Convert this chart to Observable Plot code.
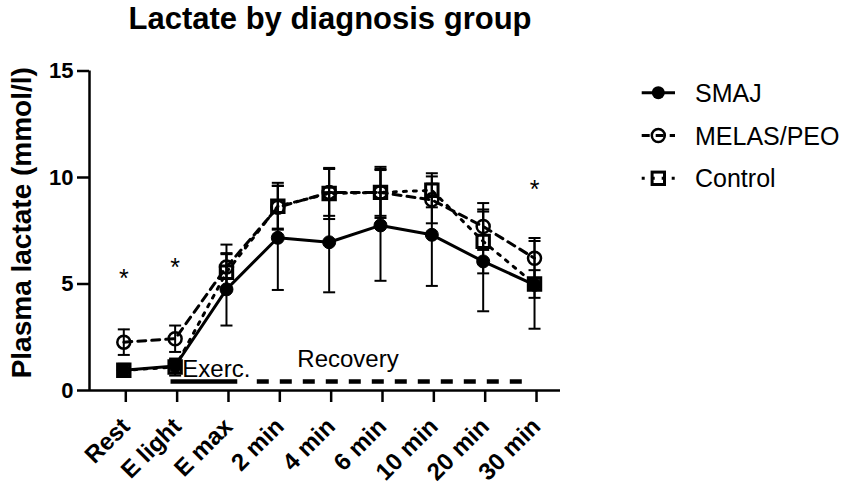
<!DOCTYPE html>
<html><head><meta charset="utf-8">
<script src="https://cdn.jsdelivr.net/npm/d3@7"></script>
<script src="https://cdn.jsdelivr.net/npm/@observablehq/plot@0.6"></script>
<style>
body{margin:0;background:#fff;font-family:"Liberation Sans",Arial,Helvetica,sans-serif;}
#wrap{position:relative;width:851px;height:485px;overflow:hidden;background:#fff;}
#title{position:absolute;left:0;top:3px;width:660px;text-align:center;font-weight:bold;font-size:31px;line-height:31px;color:#000;}
#chart{position:absolute;left:0;top:44px;}
#legend{position:absolute;left:630px;top:70px;}
</style></head><body>
<div id="wrap"><div id="title">Lactate by diagnosis group</div><div id="chart"></div><svg id="legend" width="221" height="130"></svg></div>
<script>
// ---- data ----
const categories = ["Rest","E light","E max","2 min","4 min","6 min","10 min","20 min","30 min"];
const groups = ["SMAJ","MELAS/PEO","Control"];
const smajMean    = [0.95, 1.15, 4.75, 7.17, 6.96, 7.75, 7.31, 6.06, 4.96];
const smajSD      = [0.30, 0.30, 1.70, 2.45, 2.35, 2.60, 2.40, 2.34, 2.06];
const melasMean   = [2.27, 2.43, 5.80, 8.60, 9.30, 9.30, 8.95, 7.70, 6.21];
const melasSD     = [0.60, 0.62, 1.05, 1.00, 1.10, 1.20, 1.10, 1.10, 0.95];
const controlMean = [0.95, 1.10, 5.55, 8.65, 9.25, 9.30, 9.40, 7.00, 5.00];
const controlSD   = [0.25, 0.40, 0.85, 1.10, 1.20, 1.10, 0.80, 1.50, 0.65];
const starCategories = ["Rest","E light","30 min"];
const starValues = [5.53, 6.04, 9.70];
const phaseLabels = ["Exerc.","Recovery"];
const phaseStart = [0.92, 2.60];   // category-index units
const phaseEnd   = [2.22, 7.95];
const phaseLevel = [0.42, 0.42];
const phaseLabelX = [1.14, 3.38];
const phaseLabelY = [0.62, 1.10];
const yTicks = [0, 5, 10, 15];
const yLabel = "Plasma lactate (mmol/l)";

// ---- tables ----
const means = [smajMean, melasMean, controlMean];
const sds = [smajSD, melasSD, controlSD];
const rows = [];
groups.forEach((g, k) => categories.forEach((c, i) => rows.push({g, i, mean: means[k][i], sd: sds[k][i]})));
const byGroup = g => rows.filter(d => d.g === g);
const stars = starCategories.map((c, k) => ({i: categories.indexOf(c), v: starValues[k]}));
const phases = phaseLabels.map((l, k) => ({label: l, x1: phaseStart[k], x2: phaseEnd[k], y: phaseLevel[k], lx: phaseLabelX[k], ly: phaseLabelY[k]}));

const capSymbol = {draw(ctx, size) { const w = Math.sqrt(size / Math.PI); ctx.moveTo(-w, 0); ctx.lineTo(w, 0); }};
const xDomain = [-0.668, 8.506];

const chart = Plot.plot({
  width: 851, height: 441,
  marginLeft: 89, marginRight: 291, marginTop: 26.5, marginBottom: 95,
  style: {fontFamily: "'Liberation Sans', Arial, sans-serif", color: "#000", background: "#fff", overflow: "visible"},
  x: {domain: xDomain},
  y: {domain: [0, 15]},
  marks: [
    // axes lines
    Plot.ruleY([0], {stroke: "#000", strokeWidth: 2.5}),
    Plot.ruleX([xDomain[0]], {y1: yTicks[0], y2: yTicks[yTicks.length - 1], stroke: "#000", strokeWidth: 2.5}),
    Plot.axisY({ticks: yTicks, tickSize: 12, tickPadding: 4, fontSize: 22, fontWeight: "bold", label: null, strokeWidth: 2.5}),
    Plot.axisX({ticks: d3.range(categories.length), tickFormat: i => categories[i], tickRotate: -45, tickSize: 12, tickPadding: 20, dx: 2, fontSize: 24, fontWeight: "bold", label: null, strokeWidth: 2.5}),
    Plot.text([yLabel], {frameAnchor: "left", textAnchor: "middle", rotate: -90, dx: -67, dy: -8, fontSize: 28, fontWeight: "bold"}),
    // phase annotations
    Plot.ruleY(phases.slice(0, 1), {x1: "x1", x2: "x2", y: "y", stroke: "#000", strokeWidth: 4.5}),
    Plot.ruleY(phases.slice(1), {x1: "x1", x2: "x2", y: "y", stroke: "#000", strokeWidth: 4.5, strokeDasharray: "12,11"}),
    Plot.text(phases, {x: "lx", y: "ly", text: "label", textAnchor: "start", lineAnchor: "bottom", fontSize: 24}),
    // error bars
    Plot.ruleX(rows, {x: "i", y1: d => d.mean - d.sd, y2: d => d.mean + d.sd, stroke: "#000", strokeWidth: 2}),
    Plot.dot(rows, {x: "i", y: d => d.mean + d.sd, symbol: capSymbol, r: 6, stroke: "#000", strokeWidth: 2}),
    Plot.dot(rows, {x: "i", y: d => d.mean - d.sd, symbol: capSymbol, r: 6, stroke: "#000", strokeWidth: 2}),
    // lines
    Plot.line(byGroup("Control"), {x: "i", y: "mean", stroke: "#000", strokeWidth: 3, strokeDasharray: "3,7"}),
    Plot.line(byGroup("MELAS/PEO"), {x: "i", y: "mean", stroke: "#000", strokeWidth: 3, strokeDasharray: "8,6"}),
    Plot.line(byGroup("SMAJ"), {x: "i", y: "mean", stroke: "#000", strokeWidth: 3}),
    // markers
    Plot.dot(byGroup("Control"), {x: "i", y: "mean", symbol: "square", r: 7, fill: "none", stroke: "#000", strokeWidth: 3}),
    Plot.dot(byGroup("MELAS/PEO"), {x: "i", y: "mean", r: 6.5, fill: "none", stroke: "#000", strokeWidth: 2.5}),
    Plot.dot(byGroup("SMAJ"), {x: "i", y: "mean", r: 6.5, fill: "#000", stroke: "#000", strokeWidth: 1}),
    // significance
    Plot.text(stars, {x: "i", y: "v", text: () => "*", fontSize: 25, dy: 6})
  ]
});
document.getElementById("chart").appendChild(chart);

// ---- legend ----
const lg = d3.select("#legend");
const rowY = [22.7, 65.5, 108.3];
const styles = [
  {dash: null, sym: "dot"},
  {dash: "8,6", sym: "circle"},
  {dash: "3,7", sym: "square"}
];
groups.forEach((g, k) => {
  const y = rowY[k];
  const s = styles[k];
  lg.append("line").attr("x1", 11.7).attr("x2", 45).attr("y1", y).attr("y2", y)
    .attr("stroke", "#000").attr("stroke-width", 3).attr("stroke-dasharray", s.dash);
  if (s.sym === "dot") lg.append("circle").attr("cx", 28.3).attr("cy", y).attr("r", 6.5).attr("fill", "#000");
  if (s.sym === "circle") lg.append("circle").attr("cx", 28.3).attr("cy", y).attr("r", 6.5).attr("fill", "none").attr("stroke", "#000").attr("stroke-width", 2.5);
  if (s.sym === "square") lg.append("rect").attr("x", 28.3 - 6.2).attr("y", y - 6.2).attr("width", 12.4).attr("height", 12.4).attr("fill", "none").attr("stroke", "#000").attr("stroke-width", 3);
  lg.append("text").attr("x", 65).attr("y", y + 9).attr("font-size", 25).attr("font-family", "'Liberation Sans', Arial, sans-serif").text(g);
});
</script>
</body></html>
